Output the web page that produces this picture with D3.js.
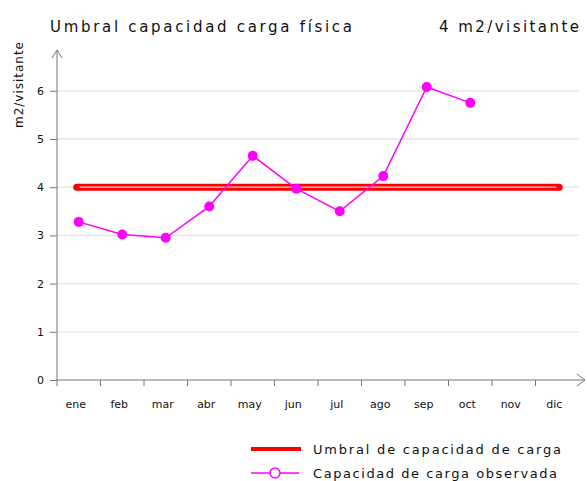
<!DOCTYPE html>
<html>
<head>
<meta charset="utf-8">
<script src="https://cdn.jsdelivr.net/npm/d3@7"></script>
<style>
  body { margin: 0; background: #fff; }
  text { font-family: "DejaVu Sans", sans-serif; fill: #111; }
</style>
</head>
<body>
<svg width="587" height="481"></svg>
<script>
const months = ['ene', 'feb', 'mar', 'abr', 'may', 'jun', 'jul', 'ago', 'sep', 'oct', 'nov', 'dic'];
const observed = [3.28, 3.02, 2.95, 3.6, 4.65, 3.97, 3.5, 4.23, 6.08, 5.75];
const threshold = 4;
const yTicks = [0, 1, 2, 3, 4, 5, 6];

const svg = d3.select('svg');

// plot frame
const pLeft = 57, pRight = 579, pTop = 50, pBottom = 380;

const x = d3.scaleBand().domain(months).range([pLeft, pRight]);
const y = d3.scaleLinear().domain([0, 6]).range([pBottom, pBottom - 6 * 48.2]);

// title
svg.append('text')
    .attr('x', 50).attr('y', 32)
    .attr('font-size', 15)
    .attr('textLength', 302).attr('lengthAdjust', 'spacing')
    .text('Umbral capacidad carga física');
svg.append('text')
    .attr('x', 439).attr('y', 32)
    .attr('font-size', 15)
    .attr('textLength', 140).attr('lengthAdjust', 'spacing')
    .text(threshold + ' m2/visitante');

// grid lines
svg.append('g').selectAll('line')
    .data(yTicks.filter(d => d > 0))
    .join('line')
    .attr('x1', pLeft).attr('x2', pRight)
    .attr('y1', d => y(d)).attr('y2', d => y(d))
    .attr('stroke', '#e4e4e4').attr('stroke-width', 1.3);

// y axis
const yAxis = svg.append('g')
    .attr('transform', `translate(${pLeft},0)`)
    .call(d3.axisLeft(y).tickValues(yTicks).tickFormat(d3.format('d')).tickSize(7).tickPadding(6));
yAxis.select('.domain').remove();
yAxis.selectAll('line').attr('stroke', '#777');
yAxis.selectAll('text').attr('font-size', 11).style('font-family', 'DejaVu Sans, sans-serif');
svg.append('line')
    .attr('x1', pLeft).attr('x2', pLeft).attr('y1', pBottom + 6).attr('y2', pTop)
    .attr('stroke', '#777');
svg.append('path')
    .attr('d', `M${pLeft - 5},${pTop + 8}L${pLeft},${pTop}L${pLeft + 5},${pTop + 8}`)
    .attr('fill', 'none').attr('stroke', '#777');

// x axis
svg.append('line')
    .attr('x1', pLeft).attr('x2', 585).attr('y1', pBottom).attr('y2', pBottom)
    .attr('stroke', '#777');
svg.append('path')
    .attr('d', `M577,${pBottom - 6}L585,${pBottom}L577,${pBottom + 6}`)
    .attr('fill', 'none').attr('stroke', '#777');
svg.append('g').selectAll('line')
    .data(months.slice(1))
    .join('line')
    .attr('x1', d => x(d)).attr('x2', d => x(d))
    .attr('y1', pBottom).attr('y2', pBottom + 6)
    .attr('stroke', '#777');
svg.append('g').selectAll('text')
    .data(months)
    .join('text')
    .attr('x', d => x(d) + x.bandwidth() / 2 - 3)
    .attr('y', 408)
    .attr('text-anchor', 'middle')
    .attr('font-size', 11)
    .text(d => d);

// y axis label
svg.append('text')
    .attr('transform', 'translate(23,128) rotate(-90)')
    .attr('font-size', 12)
    .attr('textLength', 86).attr('lengthAdjust', 'spacing')
    .text('m2/visitante');

// threshold line
const tx1 = x('ene') + x.bandwidth() / 2 - 2;
const tx2 = x('dic') + x.bandwidth() / 2 + 2;
svg.append('line')
    .attr('x1', tx1).attr('x2', tx2)
    .attr('y1', y(threshold)).attr('y2', y(threshold))
    .attr('stroke', '#ff0000').attr('stroke-width', 7).attr('stroke-linecap', 'round');
svg.append('line')
    .attr('x1', tx1 + 3).attr('x2', tx2 - 3)
    .attr('y1', y(threshold)).attr('y2', y(threshold))
    .attr('stroke', '#ffd0d0').attr('stroke-width', 1.2);

// observed
const line = d3.line()
    .x((d, i) => x(months[i]) + x.bandwidth() / 2)
    .y(d => y(d));
svg.append('path')
    .attr('d', line(observed))
    .attr('fill', 'none').attr('stroke', '#ff00ff').attr('stroke-width', 1.5);
svg.append('g').selectAll('circle')
    .data(observed)
    .join('circle')
    .attr('cx', (d, i) => x(months[i]) + x.bandwidth() / 2)
    .attr('cy', d => y(d))
    .attr('r', 5)
    .attr('fill', '#ff00ff');

// legend
svg.append('line')
    .attr('x1', 251).attr('x2', 301).attr('y1', 449).attr('y2', 449)
    .attr('stroke', '#ff0000').attr('stroke-width', 4);
svg.append('line')
    .attr('x1', 251).attr('x2', 299).attr('y1', 473).attr('y2', 473)
    .attr('stroke', '#ff00ff').attr('stroke-width', 1.5);
svg.append('circle')
    .attr('cx', 275).attr('cy', 473).attr('r', 5)
    .attr('fill', '#fff').attr('stroke', '#ff00ff').attr('stroke-width', 1.5);
svg.append('text')
    .attr('x', 313).attr('y', 454)
    .attr('font-size', 13)
    .attr('textLength', 248).attr('lengthAdjust', 'spacing')
    .text('Umbral de capacidad de carga');
svg.append('text')
    .attr('x', 313).attr('y', 478)
    .attr('font-size', 13)
    .attr('textLength', 244).attr('lengthAdjust', 'spacing')
    .text('Capacidad de carga observada');
</script>
</body>
</html>
